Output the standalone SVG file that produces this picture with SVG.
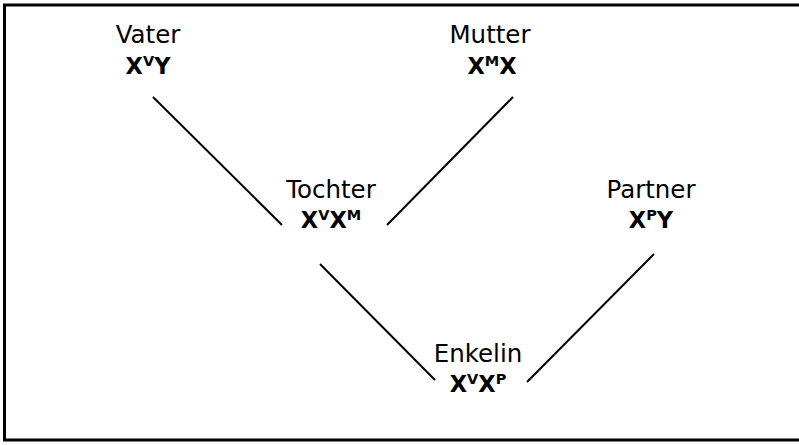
<svg xmlns="http://www.w3.org/2000/svg" width="799" height="445" viewBox="0 0 799 445">
<style>
text{font-family:"DejaVu Sans","Liberation Sans",sans-serif;fill:#000;text-anchor:middle}
.n{font-size:24.5px}
.g{font-size:22.5px;font-weight:bold}
.s{font-size:14.5px}
.c line{stroke:#000;stroke-width:2}
</style>
<rect x="0" y="0" width="799" height="445" fill="#fff"/>
<rect x="4.5" y="5" width="800" height="435" fill="none" stroke="#000" stroke-width="3"/>
<g class="c" id="connectors">
<line x1="153" y1="97" x2="282" y2="225"/>
<line x1="513" y1="97" x2="387" y2="225"/>
<line x1="320" y1="264" x2="435" y2="380"/>
<line x1="654" y1="254" x2="527" y2="382"/>
</g>
<g id="vater"><text class="n" x="148" y="43">Vater</text><text class="g" x="148" y="74">X<tspan class="s" dy="-8">V</tspan><tspan dy="8">Y</tspan></text></g>
<g id="mutter"><text class="n" x="490" y="43">Mutter</text><text class="g" x="492" y="74">X<tspan class="s" dy="-8">M</tspan><tspan dy="8">X</tspan></text></g>
<g id="tochter"><text class="n" x="331" y="198">Tochter</text><text class="g" x="331" y="228">X<tspan class="s" dy="-8">V</tspan><tspan dy="8">X</tspan><tspan class="s" dy="-8">M</tspan></text></g>
<g id="partner"><text class="n" x="651" y="198">Partner</text><text class="g" x="651" y="228">X<tspan class="s" dy="-8">P</tspan><tspan dy="8">Y</tspan></text></g>
<g id="enkelin"><text class="n" x="478" y="362">Enkelin</text><text class="g" x="478" y="392">X<tspan class="s" dy="-8">V</tspan><tspan dy="8">X</tspan><tspan class="s" dy="-8">P</tspan></text></g>
</svg>
